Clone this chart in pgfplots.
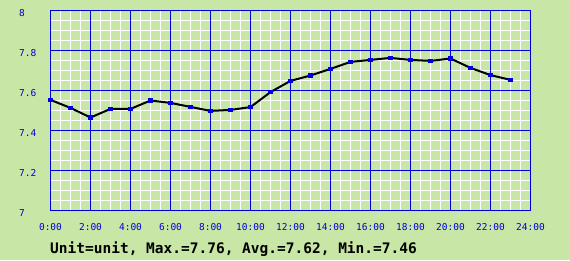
\documentclass[border=0pt]{standalone}
\usepackage{fontspec}
\setmainfont{DejaVu Sans Mono}
\usepackage{pgfplots}
\pgfplotsset{compat=1.18}
\definecolor{bg}{RGB}{200,230,165}
\definecolor{gblue}{RGB}{0,0,220}
\begin{document}
\begin{tikzpicture}[x=1bp,y=1bp]
\fill[bg] (0,0) rectangle (570,260);
\begin{axis}[
  at={(50.5bp,49.5bp)}, anchor=south west,
  scale only axis, width=480bp, height=200bp,
  xmin=0, xmax=24, ymin=7, ymax=8,
  xtick={0,2,...,24},
  xticklabels={0:00,2:00,4:00,6:00,8:00,10:00,12:00,14:00,16:00,18:00,20:00,22:00,24:00},
  ytick={7,7.2,7.4,7.6,7.8,8},
  yticklabels={7,7.2,7.4,7.6,7.8,8},
  minor x tick num=3,
  minor y tick num=3,
  xmajorgrids=false, ymajorgrids=false,
  xminorgrids=true, yminorgrids=true,
  minor grid style={white, line width=1bp},
  extra x ticks={0,2,...,24},
  extra x tick labels={},
  extra y ticks={7,7.2,7.4,7.6,7.8,8},
  extra y tick labels={},
  extra tick style={xmajorgrids=true, ymajorgrids=true, xminorgrids=false, yminorgrids=false, major grid style={draw=gblue, line width=1bp}},
  axis line style={draw=gblue, line width=1bp},
  major tick length=0pt, minor tick length=0pt,
  tick style={draw=none},
  axis background/.style={fill=bg},
  xticklabel style={font=\fontsize{9.5bp}{10bp}\selectfont, text=gblue, anchor=north, inner sep=0pt, yshift=-12.5bp},
  yticklabel style={font=\fontsize{9.5bp}{10bp}\selectfont, text=gblue, anchor=north west, inner sep=0pt, xshift=-31.5bp, yshift=1bp},
  clip=false,
]
\addplot[black, line width=2bp, mark=square*, mark size=1.8bp, mark options={fill=gblue, draw=gblue, line width=0pt}] coordinates {
(0,7.553)(1,7.513)(2,7.465)(3,7.508)(4,7.508)(5,7.550)(6,7.538)(7,7.518)
(8,7.498)(9,7.503)(10,7.517)(11,7.592)(12,7.648)(13,7.675)(14,7.708)(15,7.743)
(16,7.753)(17,7.763)(18,7.753)(19,7.748)(20,7.760)(21,7.713)(22,7.677)(23,7.653)
};
\end{axis}
\node[anchor=base west, inner sep=0pt, font=\bfseries\fontsize{14.5bp}{15bp}\selectfont] at (50,7) {Unit=unit, Max.=7.76, Avg.=7.62, Min.=7.46};
\end{tikzpicture}
\end{document}
